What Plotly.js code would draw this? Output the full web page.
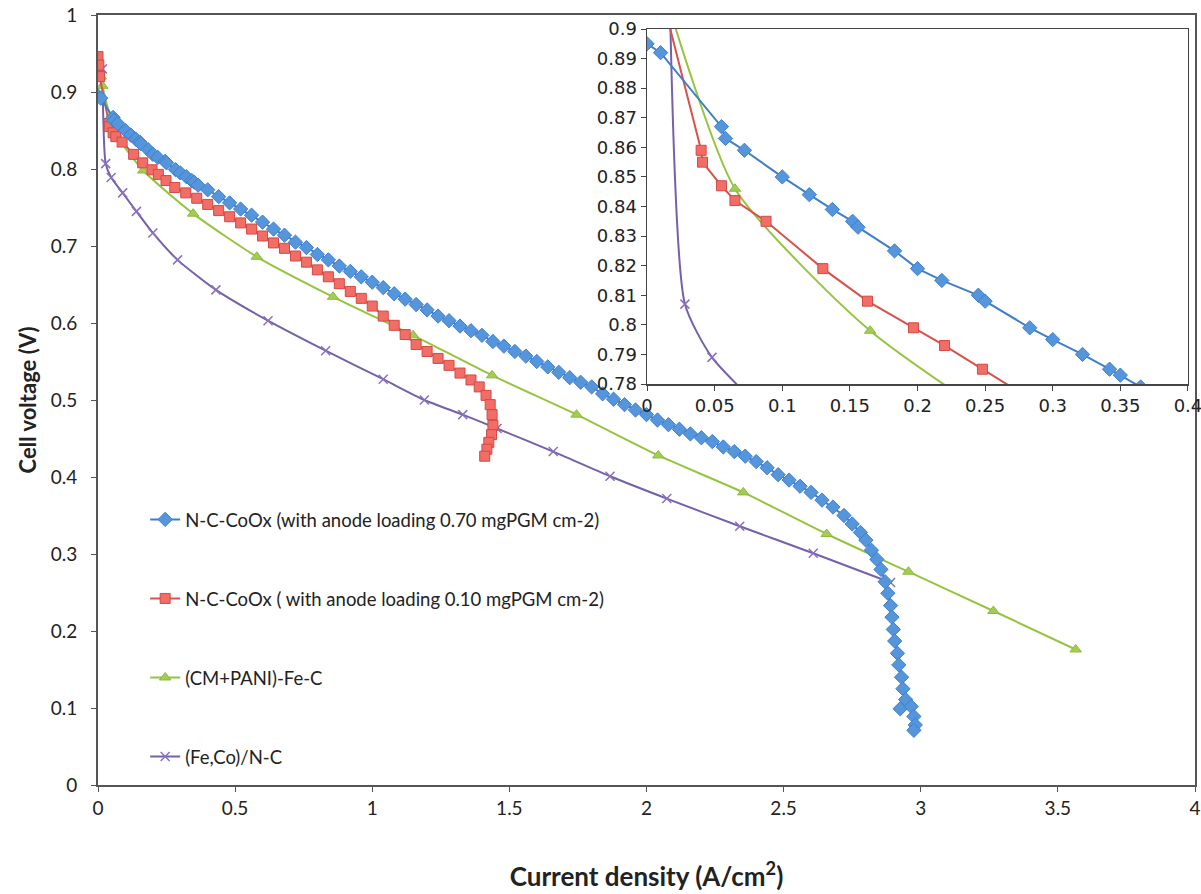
<!DOCTYPE html>
<html><head><meta charset="utf-8">
<script src="https://cdn.plot.ly/plotly-3.0.1.min.js"></script>
<style>body{margin:0;background:#fff}</style>
</head><body><div id="chart" style="width:1201px;height:894px"></div>
<script>
// Series names
const nameBlue = 'N-C-CoOx (with anode loading 0.70 mgPGM cm-2)';
const nameRed = 'N-C-CoOx ( with anode loading 0.10 mgPGM cm-2)';
const nameGreen = '(CM+PANI)-Fe-C';
const namePurple = '(Fe,Co)/N-C';

// N-C-CoOx, anode 0.70 mgPGM cm-2  (current density A/cm2, cell voltage V)
const blueX = [0,0.010,0.055,0.058,0.072,0.100,0.120,0.137,0.152,0.156,0.183,0.200,0.218,0.245,0.250,0.283,0.300,0.322,0.342,0.350,0.365,
  0.40,0.44,0.48,0.52,0.56,0.60,0.64,0.68,0.72,0.76,0.80,0.84,0.88,0.92,0.96,1.00,1.04,1.08,1.12,1.16,1.20,1.24,1.28,1.32,1.36,1.40,
  1.44,1.48,1.52,1.56,1.60,1.64,1.68,1.72,1.76,1.80,1.84,1.88,1.92,1.96,2.00,2.04,2.08,2.12,2.16,2.20,2.24,2.28,2.32,2.36,2.40,
  2.44,2.48,2.52,2.56,2.60,2.64,2.68,2.72,2.75,2.78,2.80,2.82,2.84,2.855,2.87,2.88,2.89,2.895,2.90,2.905,2.915,2.92,2.93,2.935,
  2.945,2.925,2.965,2.975,2.98,2.975];
const blueY = [0.895,0.892,0.867,0.863,0.859,0.850,0.844,0.839,0.835,0.833,0.825,0.819,0.815,0.810,0.808,0.799,0.795,0.790,0.785,0.783,0.779,
  0.773,0.764,0.756,0.748,0.740,0.731,0.722,0.714,0.705,0.698,0.689,0.682,0.674,0.667,0.660,0.653,0.646,0.638,0.631,0.624,0.617,0.609,0.603,0.596,0.590,0.584,
  0.576,0.570,0.563,0.557,0.550,0.543,0.536,0.529,0.523,0.517,0.508,0.501,0.494,0.487,0.481,0.474,0.468,0.462,0.456,0.451,0.446,0.439,0.433,0.427,0.420,
  0.412,0.403,0.396,0.388,0.380,0.370,0.361,0.350,0.339,0.328,0.318,0.305,0.293,0.280,0.264,0.249,0.233,0.218,0.202,0.187,0.171,0.156,0.140,0.125,
  0.111,0.099,0.102,0.089,0.078,0.071];

// N-C-CoOx, anode 0.10 mgPGM cm-2
const redX = [0,0.003,0.006,0.040,0.041,0.055,0.065,0.088,0.130,0.163,0.197,0.220,0.248,0.280,0.32,0.36,0.40,0.44,0.48,0.52,0.56,0.60,
  0.64,0.68,0.72,0.76,0.80,0.84,0.88,0.92,0.96,1.00,1.04,1.08,1.12,1.16,1.20,1.24,1.28,1.32,1.36,1.39,1.415,1.43,1.437,1.44,1.435,1.425,1.418,1.41];
const redY = [0.946,0.935,0.920,0.859,0.855,0.847,0.842,0.835,0.819,0.808,0.799,0.793,0.785,0.776,0.769,0.762,0.754,0.746,0.738,0.730,0.722,0.713,
  0.704,0.697,0.687,0.679,0.669,0.660,0.651,0.641,0.632,0.622,0.609,0.597,0.585,0.572,0.563,0.554,0.545,0.535,0.526,0.517,0.506,0.494,0.481,0.467,0.455,0.445,0.436,0.427];

// (CM+PANI)-Fe-C
const greenX = [0.010,0.016,0.065,0.165,0.347,0.579,0.857,1.149,1.437,1.745,2.043,2.353,2.657,2.955,3.265,3.565];
const greenY = [0.920,0.908,0.846,0.798,0.742,0.686,0.634,0.584,0.532,0.481,0.428,0.380,0.326,0.277,0.226,0.176];

// (Fe,Co)/N-C
const purpleX = [0.016,0.028,0.048,0.090,0.140,0.200,0.290,0.430,0.620,0.830,1.040,1.190,1.330,1.455,1.660,1.867,2.074,2.340,2.608,2.890];
const purpleY = [0.930,0.807,0.789,0.769,0.745,0.717,0.682,0.643,0.603,0.564,0.527,0.500,0.481,0.463,0.433,0.401,0.372,0.336,0.301,0.263];

const styles = [
  {x:purpleX, y:purpleY, name:namePurple, rank:4, shape:'spline',
   line:{color:'#7560aa', width:2}, marker:{symbol:'x-thin-open', size:9, color:'#8a70c0', line:{width:1.5, color:'#8a70c0'}}},
  {x:greenX, y:greenY, name:nameGreen, rank:3, shape:'spline',
   line:{color:'#96c43e', width:2}, marker:{symbol:'triangle-up', size:10, color:'#a3cc55', line:{width:1, color:'#8cbb3a'}}},
  {x:redX, y:redY, name:nameRed, rank:2, shape:'linear',
   line:{color:'#d8524c', width:2}, marker:{symbol:'square', size:10, color:'#f26d66', line:{width:1, color:'#d24a44'}}},
  {x:blueX, y:blueY, name:nameBlue, rank:1, shape:'linear',
   line:{color:'#3f7fc9', width:2}, marker:{symbol:'diamond', size:11, color:'#5595dc', line:{width:1, color:'#3f80cc'}}}
];

const traces = [];
styles.forEach(s=>{
  traces.push({type:'scatter', mode:'lines+markers', x:s.x, y:s.y, name:s.name,
    legendgroup:'g'+s.rank, legendrank:s.rank, line:Object.assign({shape:s.shape, smoothing:0.6}, s.line),
    marker:s.marker, xaxis:'x', yaxis:'y'});
});
styles.forEach(s=>{
  traces.push({type:'scatter', mode:'lines+markers', x:s.x, y:s.y, name:s.name, showlegend:false,
    line:Object.assign({shape:s.shape, smoothing:0.6}, s.line),
    marker:s.marker, xaxis:'x2', yaxis:'y2'});
});

const mainFont = 'Lato, "Open Sans", sans-serif';
const layout = {
  width:1201, height:894,
  margin:{l:98, r:6, t:15, b:109},
  paper_bgcolor:'#fff', plot_bgcolor:'rgba(0,0,0,0)',
  showlegend:true,
  legend:{x:0.043, y:0.369, xanchor:'left', yanchor:'top', bgcolor:'rgba(0,0,0,0)',
    font:{family:mainFont, size:18.5, color:'#222'}, tracegroupgap:52, traceorder:'grouped'},
  xaxis:{domain:[0,1], range:[0,4], dtick:0.5, tick0:0, showgrid:false, zeroline:false,
    showline:true, mirror:true, linecolor:'#555', linewidth:2, ticks:'outside', ticklen:5, tickcolor:'#555',
    tickfont:{family:mainFont, size:19, color:'#222'},
    title:{text:'<b>Current density (A/cm<sup>2</sup>)</b>', font:{family:mainFont, size:26, color:'#222'}, standoff:50}},
  yaxis:{domain:[0,1], range:[0,1], dtick:0.1, tick0:0, showgrid:false, zeroline:false,
    showline:true, mirror:true, linecolor:'#555', linewidth:2, ticks:'outside', ticklen:5, tickcolor:'#555',
    ticklabelstandoff:10,
    tickfont:{family:mainFont, size:19, color:'#222'},
    title:{text:'<b>Cell voltage (V)</b>', font:{family:mainFont, size:22, color:'#222'}, standoff:8}},
  xaxis2:{domain:[0.5005,0.9936], anchor:'y2', range:[0,0.4], dtick:0.05, tick0:0, showgrid:false, zeroline:false,
    showline:true, mirror:true, linecolor:'#444', linewidth:1.5, ticks:'outside', ticklen:5, tickcolor:'#444',
    ticklabeloverflow:'allow',
    tickfont:{family:'"DejaVu Sans", sans-serif', size:18, color:'#222'}},
  yaxis2:{domain:[(785-384)/770,(785-29)/770], anchor:'x2', range:[0.78,0.9], dtick:0.01, tick0:0.78, showgrid:false, zeroline:false,
    showline:true, mirror:true, linecolor:'#444', linewidth:1.5, ticks:'outside', ticklen:5, tickcolor:'#444',
    tickfont:{family:'"DejaVu Sans", sans-serif', size:18, color:'#222'}}
};

Plotly.newPlot('chart', traces, layout, {staticPlot:true});
</script></body></html>
